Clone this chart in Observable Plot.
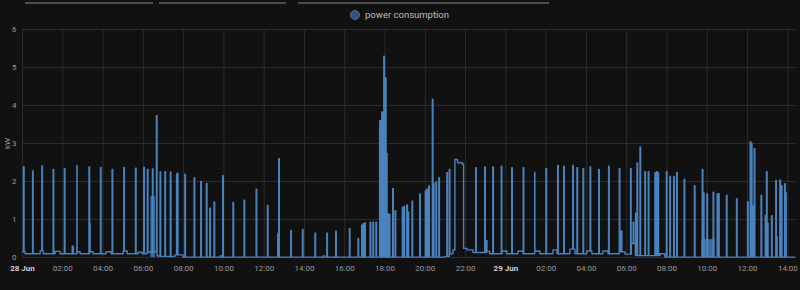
<!DOCTYPE html>
<html>
<head>
<meta charset="utf-8">
<script src="https://cdn.jsdelivr.net/npm/d3@7"></script>
<script src="https://cdn.jsdelivr.net/npm/@observablehq/plot@0.6"></script>
<style>
  html, body { margin: 0; padding: 0; background: #111111; }
  body { width: 800px; height: 290px; overflow: hidden; position: relative; font-family: Roboto, "Noto Sans", sans-serif; }
  .bar { position: absolute; top: 2px; height: 2px; background: #4d4d4d; }
  #legend { position: absolute; top: 9px; left: 350px; display: flex; align-items: center; font-size: 9.5px; color: #bdbdbd; }
  #legend .dot { width: 10px; height: 10px; border-radius: 50%; background: #33557a; border: 1px solid #44739e; box-sizing: border-box; margin-right: 5px; }
  #chart { position: absolute; top: 22px; left: 0; }
</style>
</head>
<body>
<div class="bar" style="left:25px;width:128px"></div>
<div class="bar" style="left:159px;width:127px"></div>
<div class="bar" style="left:298px;width:251px"></div>
<div id="legend"><div class="dot"></div><span>power consumption</span></div>
<div id="chart"></div>
<script>
// hours since 28 Jun 00:00
const seriesName = "power consumption";
const yTicks = [0, 1, 2, 3, 4, 5, 6];
const xTickHours = [0,2,4,6,8,10,12,14,16,18,20,22,24,26,28,30,32,34,36,38];
const xTickLabels = ["28 Jun","02:00","04:00","06:00","08:00","10:00","12:00","14:00","16:00","18:00","20:00","22:00","29 Jun","02:00","04:00","06:00","08:00","10:00","12:00","14:00"];

// baseline (step changes)
const baseHours = [0, 0.13, 0.88, 1.03, 1.62, 1.87, 2.47, 2.52, 2.71, 2.86, 3.36, 3.51, 4.15, 4.40, 5.00, 5.20, 5.74, 5.94, 6.19, 6.34, 6.68, 6.83, 7.57, 7.97,
  20.98, 21.22, 21.37, 21.47, 21.60, 21.72, 21.82, 21.90, 22.07, 22.37, 23.06, 23.20, 23.81, 24.05, 24.60, 24.85, 25.44, 25.69, 26.34, 26.54, 27.18, 27.43,
  28.02, 28.27, 28.82, 29.07, 29.66, 29.91, 30.23, 30.43, 31.65, 31.89, 38.35];
const baseValues = [0.15, 0.10, 0.18, 0.10, 0.16, 0.10, 0.30, 0.10, 0.15, 0.10, 0.15, 0.10, 0.15, 0.10, 0.17, 0.10, 0.14, 0.10, 0.14, 0.15, 0.04, 0.03, 0.07, 0.01,
  0.03, 0.10, 0.20, 2.58, 2.49, 2.50, 2.46, 0.24, 0.20, 0.13, 0.16, 0.10, 0.17, 0.10, 0.17, 0.10, 0.17, 0.10, 0.20, 0.10, 0.22, 0.10,
  0.17, 0.10, 0.17, 0.10, 0.15, 0.09, 0.37, 0.05, 0.10, 0.01, 0.01];

// short spikes
const spikeHours = [0.05, 0.50, 0.96, 1.52, 2.08, 2.70, 3.30, 3.33, 3.87, 4.45, 5.03, 5.61, 6.02, 6.20, 6.45, 6.65, 6.83, 7.07, 7.34, 7.65, 7.69,
  8.06, 8.52, 8.85, 9.13, 9.30, 9.51, 9.83, 9.94, 10.45, 11.00, 11.60, 12.16, 12.67, 12.72, 13.32, 13.90, 14.52, 14.94, 15.11,
  15.55, 16.23, 16.66, 16.84, 16.92, 16.99, 17.26, 17.40, 17.55, 17.74, 17.84, 17.94, 18.02, 18.07, 18.12, 18.21, 18.38, 18.50,
  18.86, 18.94, 19.08, 19.14, 19.34, 19.72, 20.00, 20.07, 20.17, 20.35, 20.40, 20.53, 20.67, 21.07, 21.19, 22.50, 22.95, 23.03,
  23.35, 23.77, 24.29, 24.86, 25.43, 25.99, 26.57, 26.87, 27.32, 27.53, 27.83, 28.18, 28.61, 29.10, 29.63, 29.73, 30.19, 30.32,
  30.44, 30.51, 30.66, 30.90, 31.07, 31.40, 31.49, 31.55, 31.97, 32.14, 32.33, 32.48, 32.85, 33.36, 33.75, 33.81, 33.98, 34.29,
  34.49, 34.56, 34.95, 35.45, 36.00, 36.13, 36.19, 36.24, 36.33, 36.67, 36.88, 36.94, 36.99, 37.19, 37.40, 37.44, 37.60, 37.68,
  37.84, 37.89];
const spikeValues = [2.39, 2.28, 2.41, 2.32, 2.34, 2.42, 2.38, 0.90, 2.37, 2.32, 2.37, 2.35, 2.37, 2.32, 2.33, 3.73, 2.25, 2.26, 2.25, 2.19, 2.22,
  2.19, 2.10, 2.00, 1.95, 1.30, 1.46, 0.05, 2.15, 1.45, 1.51, 1.80, 1.37, 0.62, 2.60, 0.71, 0.74, 0.64, 0.05, 0.64,
  0.69, 0.76, 0.50, 0.85, 0.89, 0.91, 0.93, 0.93, 0.93, 3.60, 3.83, 5.30, 4.73, 2.74, 1.16, 1.13, 1.82, 1.23,
  1.32, 1.35, 1.38, 1.20, 1.48, 1.67, 1.75, 1.80, 1.88, 4.16, 1.95, 1.99, 2.10, 2.23, 2.32, 2.36, 2.38, 0.45,
  2.38, 2.40, 2.36, 2.36, 2.24, 2.34, 2.42, 2.40, 2.42, 2.36, 2.34, 2.38, 2.32, 2.40, 2.34, 0.70, 2.34, 0.93,
  1.16, 2.49, 2.91, 2.26, 2.26, 2.23, 2.26, 2.23, 2.26, 2.13, 2.13, 2.24, 2.06, 1.89, 2.32, 1.70, 1.67, 1.72,
  1.67, 1.68, 1.64, 1.55, 1.47, 3.05, 3.00, 1.36, 2.86, 1.64, 1.11, 2.26, 0.90, 1.10, 2.03, 0.54, 2.04, 1.89,
  1.94, 1.70];

// dense, rapidly switching stretches
const blockStart = [6.37, 17.72, 17.93, 18.08, 33.73];
const blockEnd   = [6.60, 17.93, 18.08, 18.24, 34.39];
const blockValue = [1.60, 3.40, 2.30, 1.10, 0.47];

const base = new Date(2023, 5, 28, 0, 0, 0).getTime();
const toDate = h => new Date(base + h * 3600e3);
const SPIKE_W = 0.03;
const baselineAt = h => { let v = baseValues[0]; for (let i = 0; i < baseHours.length; i++) if (baseHours[i] <= h + 1e-9) v = baseValues[i]; return v; };

const pts = baseHours.map((h, i) => ({h, v: baseValues[i], k: 0}));
spikeHours.forEach((h, i) => {
  pts.push({h, v: spikeValues[i], k: 1});
  pts.push({h: h + SPIKE_W, v: baselineAt(h + SPIKE_W), k: 0});
});
pts.sort((a, b) => (a.h - b.h) || (a.k - b.k));
const series = pts.map(p => ({date: toDate(p.h), kw: p.v}));
const blocks = blockStart.map((s, i) => ({x1: toDate(s), x2: toDate(blockEnd[i]), y1: 0, y2: blockValue[i]}));
const xTicks = xTickHours.map(toDate);
const labelOf = new Map(xTicks.map((d, i) => [+d, xTickLabels[i]]));
const COLOR = "#4a82bd";

const chart = Plot.plot({
  width: 800,
  height: 268,
  marginLeft: 22,
  marginRight: 4,
  marginTop: 7,
  marginBottom: 33,
  style: {background: "#111111", fontFamily: "Roboto, sans-serif", overflow: "visible"},
  x: {type: "time", domain: [toDate(0), toDate(38.43)]},
  y: {domain: [0, 6]},
  marks: [
    Plot.gridX(xTicks, {stroke: "#2c2c2c", strokeOpacity: 1}),
    Plot.gridY(yTicks, {stroke: "#2c2c2c", strokeOpacity: 1}),
    Plot.rect(blocks, {x1: "x1", x2: "x2", y1: "y1", y2: "y2", fill: COLOR, fillOpacity: 0.8}),
    Plot.line(series, {x: "date", y: "kw", curve: "step-after", stroke: COLOR, strokeWidth: 1.4}),
    Plot.axisY(yTicks, {tickSize: 0, tickPadding: 6, fontSize: 8, color: "#9a9a9a", label: "kW", labelAnchor: "center", labelArrow: "none", labelOffset: 18}),
    Plot.axisX(xTicks, {tickSize: 0, tickPadding: 8, fontSize: 8, color: "#9a9a9a", tickFormat: d => labelOf.get(+d), label: null})
  ]
});
chart.querySelectorAll("text").forEach(t => {
  if (/Jun/.test(t.textContent)) { t.setAttribute("font-weight", "bold"); t.setAttribute("fill", "#cfcfcf"); }
});
document.getElementById("chart").appendChild(chart);
</script>
</body>
</html>
